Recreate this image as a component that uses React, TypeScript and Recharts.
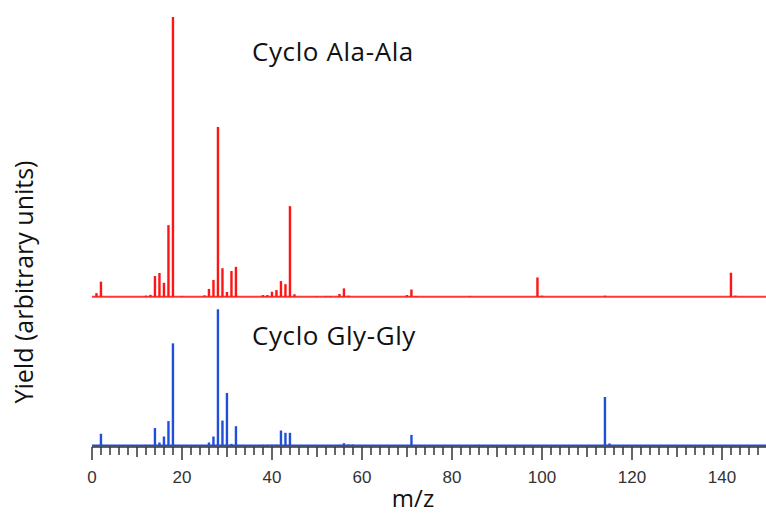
import { ComposedChart, Bar, XAxis, YAxis, ReferenceLine } from 'recharts'

// m/z positions of every peak seen in either spectrum
const massToCharge = [
  1, 2, 12, 13, 14, 15, 16, 17, 18, 20, 25, 26, 27, 28, 29, 30, 31, 32, 38, 39, 40, 41, 42, 43, 44, 45,
  50, 52, 53, 55, 56, 57, 58, 70, 71, 72, 84, 86, 99, 100, 114, 115, 142, 143,
]

// relative yields, tallest peak of each spectrum = 100
const alaAlaYield = [
  1.3, 5.4, 0.4, 0.7, 7.4, 8.5, 5.0, 25.6, 100, 0.3, 0.5, 2.8, 6.0, 60.7, 10.2, 1.7, 9.2, 10.7, 0.6, 0.6, 1.8, 2.4, 5.6, 4.5, 32.4, 0.9,
  0.2, 0.3, 0.3, 1.0, 3.0, 0.4, 0, 0.6, 2.6, 0.3, 0.3, 0, 6.9, 0.4, 0.4, 0, 8.6, 0.4,
]

const glyGlyYield = [
  0, 8.6, 0.5, 0.3, 12.8, 2.2, 6.6, 17.9, 75, 0.4, 0.3, 2.2, 6.6, 100, 18.3, 38.6, 1.2, 14.2, 0.5, 0.5, 0.6, 0.6, 11, 9.3, 9.3, 0.3,
  0.3, 0.3, 0.3, 0.5, 1.7, 0.7, 0.7, 0.3, 7.8, 0.3, 0, 0.5, 0.3, 0, 35.6, 1.5, 0.4, 0,
]

const labelledTicks = [0, 20, 40, 60, 80, 100, 120, 140]
const tickMarks = Array.from({ length: 76 }, (_, i) => i * 2)

const data = massToCharge.map((mz, i) => ({ mz, ala: alaAlaYield[i], gly: glyGlyYield[i] }))

const RED = '#ff1414'
const BLUE = '#1f4fd8'
const FONT = '"Open Sans", Lato, sans-serif'

function MassTick(props: any) {
  const { x, y, payload } = props
  const v = payload.value
  const len = v % 20 === 0 ? 13 : v % 10 === 0 ? 10 : 8
  return (
    <g>
      <line x1={x} x2={x} y1={y} y2={y + len} stroke="#333" strokeWidth={1.5} />
      {labelledTicks.includes(v) && (
        <text x={x} y={y + 36} textAnchor="middle" fontSize={17} fontFamily='"Liberation Sans", Arial, sans-serif' fill="#333">
          {v}
        </text>
      )}
    </g>
  )
}

export default function App() {
  return (
    <div style={{ position: 'absolute', left: 0, top: 0, width: 766, height: 515, overflow: 'hidden', background: '#fff' }}>
      <ComposedChart width={768} height={515} data={data} margin={{ top: 17, right: 1, left: 92, bottom: 6 }}>
        <XAxis
          xAxisId="a"
          dataKey="mz"
          type="number"
          domain={[0, 150]}
          allowDataOverflow
          ticks={tickMarks}
          interval={0}
          tick={<MassTick />}
          tickLine={false}
          tickSize={0}
          tickMargin={0}
          height={62}
          axisLine={{ stroke: '#333', strokeWidth: 1.5 }}
        />
        <XAxis xAxisId="b" dataKey="mz" type="number" domain={[0, 150]} allowDataOverflow hide />
        <YAxis
          yAxisId="red"
          type="number"
          domain={[-53.7, 100]}
          allowDataOverflow
          width={0}
          tick={false}
          tickLine={false}
          axisLine={{ stroke: '#222', strokeWidth: 1.5 }}
        />
        <YAxis yAxisId="blue" type="number" domain={[-1.1, 314.6]} allowDataOverflow hide />
        <ReferenceLine xAxisId="b" yAxisId="red" y={0} stroke={RED} strokeOpacity={0.85} strokeWidth={2} />
        <ReferenceLine xAxisId="a" yAxisId="blue" y={0} stroke={BLUE} strokeWidth={2} />
        <Bar xAxisId="b" yAxisId="red" dataKey="ala" fill={RED} barSize={2.4} isAnimationActive={false} />
        <Bar xAxisId="a" yAxisId="blue" dataKey="gly" fill={BLUE} barSize={2.4} isAnimationActive={false} />
      </ComposedChart>
      <svg width={766} height={515} style={{ position: 'absolute', left: 0, top: 0, pointerEvents: 'none' }}>
        <text x={252} y={61} fontSize={26} letterSpacing={0.6} fontFamily={FONT} fill="#111">
          Cyclo Ala-Ala
        </text>
        <text x={252} y={345} fontSize={26} letterSpacing={0.6} fontFamily={FONT} fill="#111">
          Cyclo Gly-Gly
        </text>
        <text x={413} y={507} textAnchor="middle" fontSize={24} fontFamily={FONT} fill="#111">
          m/z
        </text>
        <text
          x={33}
          y={282}
          transform="rotate(-90 33 282)"
          textAnchor="middle"
          fontSize={25}
          fontFamily={FONT}
          fill="#111"
        >
          Yield (arbitrary units)
        </text>
      </svg>
    </div>
  )
}
